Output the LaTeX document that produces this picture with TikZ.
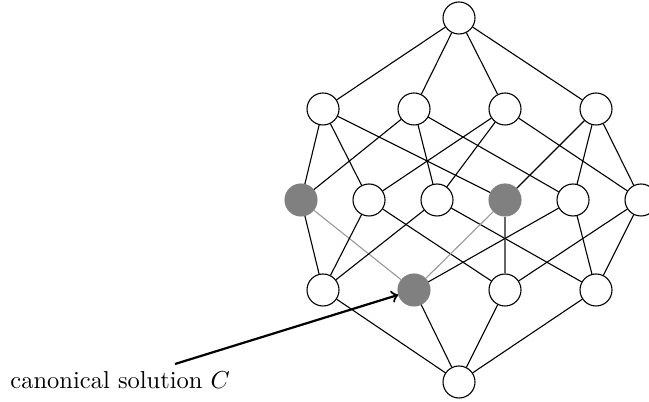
\documentclass[tikz,border=0pt]{standalone}
\begin{document}
\begin{tikzpicture}[x=0.4082pt,y=-0.4082pt,
  vtx/.style={circle,draw=black,fill=white,line width=0.45pt,minimum size=13.06pt,inner sep=0pt},
  gvtx/.style={circle,draw=gray,fill=gray,line width=0.45pt,minimum size=13.06pt,inner sep=0pt},
  edge/.style={line width=0.45pt,black},
  ledge/.style={line width=0.45pt,black!40},
  dedge/.style={line width=0.6pt,black!60},
  pointer/.style={line width=0.9pt,->}]
\useasboundingbox (0,0) rectangle (649,402);
\node[vtx] (t) at (459,18) {};
\node[vtx] (a) at (323,109) {};
\node[vtx] (b) at (414,109) {};
\node[vtx] (c) at (505,109) {};
\node[vtx] (d) at (596,109) {};
\node[gvtx] (ab) at (301,200) {};
\node[vtx] (ac) at (369,200) {};
\node[vtx] (bc) at (437,200) {};
\node[gvtx] (ad) at (505,200) {};
\node[vtx] (bd) at (573,200) {};
\node[vtx] (cd) at (641,200) {};
\node[vtx] (abc) at (323,290) {};
\node[gvtx] (abd) at (414,290) {};
\node[vtx] (acd) at (505,290) {};
\node[vtx] (bcd) at (596,290) {};
\node[vtx] (z) at (459,382) {};
\foreach \u in {a,b,c,d} \draw[edge] (t) -- (\u);
\draw[edge] (a) -- (ab); \draw[edge] (a) -- (ac); \draw[edge] (a) -- (ad);
\draw[edge] (b) -- (ab); \draw[edge] (b) -- (bc); \draw[edge] (b) -- (bd);
\draw[edge] (c) -- (ac); \draw[edge] (c) -- (bc); \draw[edge] (c) -- (cd);
\draw[edge] (d) -- (ad); \draw[edge] (d) -- (bd); \draw[edge] (d) -- (cd);
\draw[edge] (ab) -- (abc); \draw[ledge] (ab) -- (abd);
\draw[edge] (ac) -- (abc); \draw[edge] (ac) -- (acd);
\draw[edge] (bc) -- (abc); \draw[edge] (bc) -- (bcd);
\draw[ledge] (ad) -- (abd); \draw[dedge] (ad) -- (acd);
\draw[edge] (bd) -- (abd); \draw[edge] (bd) -- (bcd);
\draw[edge] (cd) -- (acd); \draw[edge] (cd) -- (bcd);
\foreach \u in {abc,abd,acd,bcd} \draw[edge] (\u) -- (z);
\node[anchor=base west,inner sep=0pt] (lbl) at (10,389) {canonical solution $C$};
\coordinate (tail) at (175,364);
\draw[pointer] (tail) -- (abd);
\end{tikzpicture}
\end{document}
